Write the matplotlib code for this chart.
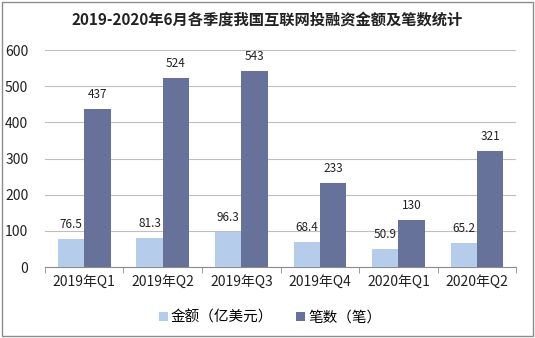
import matplotlib
matplotlib.use('agg')
import matplotlib.pyplot as plt
from matplotlib.patches import Rectangle
import numpy as np

plt.rcParams['font.family'] = ['Noto Sans CJK SC', 'DejaVu Sans']

quarters = ['2019年Q1', '2019年Q2', '2019年Q3', '2019年Q4', '2020年Q1', '2020年Q2']
amount = [76.5, 81.3, 96.3, 68.4, 50.9, 65.2]
deals = [437, 524, 543, 233, 130, 321]

light = '#B5CDEB'
dark = '#67729A'

fig = plt.figure(figsize=(5.35, 3.38), dpi=100)
ax = fig.add_axes([0.084, 0.21, 0.881, 0.642])

x = np.arange(len(quarters))
w = 0.335
b1 = ax.bar(x - w / 2, amount, w, color=light, label='金额（亿美元）', zorder=3)
b2 = ax.bar(x + w / 2, deals, w, color=dark, label='笔数（笔）', zorder=3)

for rect, v in zip(b1, amount):
    ax.text(rect.get_x() + rect.get_width() / 2, v + 22, f'{v:.1f}', ha='center', va='bottom',
            fontsize=8.5, color='#222222')
for rect, v in zip(b2, deals):
    ax.text(rect.get_x() + rect.get_width() / 2, v + 22, f'{v}', ha='center', va='bottom',
            fontsize=8.5, color='#222222')

ax.set_xlim(-0.5, len(quarters) - 0.5)
ax.set_ylim(0, 600)
ax.set_yticks(range(0, 601, 100))
ax.yaxis.grid(True, color='#BFBFBF', linewidth=0.8, zorder=0)
ax.set_axisbelow(True)
for s in ['top', 'right', 'left']:
    ax.spines[s].set_visible(False)
ax.spines['bottom'].set_color('#8C8C8C')
ax.tick_params(axis='y', length=0, labelsize=10, pad=12, colors='#222222')
ax.set_xticks(x)
ax.set_xticklabels(quarters, fontsize=10, color='#222222')
ax.tick_params(axis='x', which='major', length=0, pad=6)
ax.set_xticks(np.arange(-0.5, len(quarters), 1), minor=True)
ax.tick_params(axis='x', which='minor', length=4, color='#8C8C8C', direction='out')

fig.suptitle('2019-2020年6月各季度我国互联网投融资金额及笔数统计', x=0.5, y=0.965,
             fontsize=11, fontweight='bold', color='#222222')

fig.legend(handles=[b1, b2], loc='center', bbox_to_anchor=(0.505, 0.06), ncol=2, frameon=False,
           fontsize=10.5, handlelength=0.6, handleheight=0.6, handletextpad=0.2, columnspacing=1.6)

fig.patches.append(Rectangle((0.004, 0.006), 0.992, 0.988, transform=fig.transFigure,
                             fill=False, edgecolor='#8C8C8C', linewidth=1))

plt.savefig('out.png', dpi=100)
